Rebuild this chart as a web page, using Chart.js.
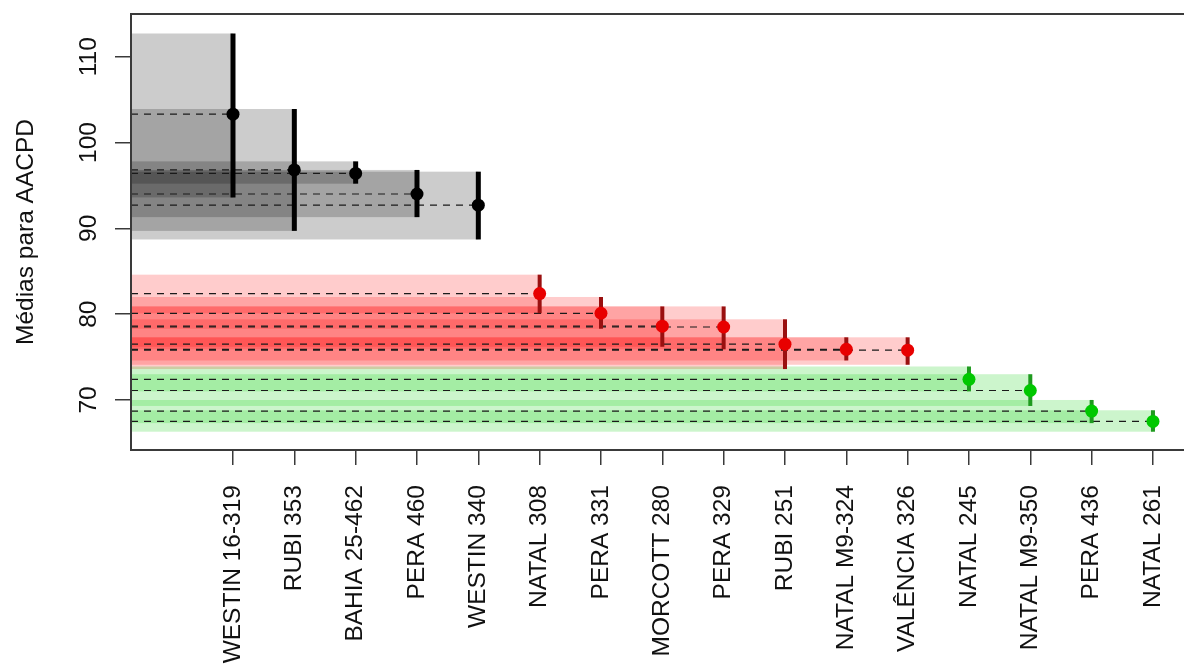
<!DOCTYPE html>
<html>
<head>
<meta charset="utf-8">
<script src="https://cdn.jsdelivr.net/npm/chart.js@4.4.1/dist/chart.umd.min.js"></script>
<style>
	html, body { margin: 0; padding: 0; background: #fff; overflow: hidden; }
	#grafico { display: block; }
</style>
</head>
<body>
<canvas id="grafico" width="1184" height="670"></canvas>
<script>
// dados
var categorias = ['WESTIN 16-319', 'RUBI 353', 'BAHIA 25-462', 'PERA 460', 'WESTIN 340',
	'NATAL 308', 'PERA 331', 'MORCOTT 280', 'PERA 329', 'RUBI 251', 'NATAL M9-324', 'VALÊNCIA 326',
	'NATAL 245', 'NATAL M9-350', 'PERA 436', 'NATAL 261'];
var medias = [103.3, 96.8, 96.4, 94.0, 92.7, 82.4, 80.1, 78.6, 78.5, 76.5, 75.9, 75.8, 72.4, 71.1, 68.7, 67.5];
var limInf = [93.6, 89.7, 95.2, 91.3, 88.7, 80.1, 78.3, 76.2, 75.9, 73.6, 74.6, 74.1, 71.0, 69.3, 67.3, 66.3];
var limSup = [112.7, 103.9, 97.8, 96.8, 96.6, 84.6, 82.0, 80.9, 80.9, 79.4, 77.3, 77.3, 73.9, 73.0, 70.0, 68.8];
var grupos = ['a', 'a', 'a', 'a', 'a', 'b', 'b', 'b', 'b', 'b', 'b', 'b', 'c', 'c', 'c', 'c'];
var marcasY = [70, 80, 90, 100, 110];

// limites dos eixos
var xMin = -0.663, xMax = 16.506;
var yMin = 64.17, yMax = 114.97;

var corFaixa = { a: 'rgba(0,0,0,0.2)', b: 'rgba(255,0,0,0.2)', c: 'rgba(0,205,0,0.2)' };
var corBarra = { a: '#000000', b: '#9a1010', c: '#1f9a1f' };
var corPonto = { a: '#000000', b: '#e80000', c: '#00c800' };
var fonte = '"Liberation Sans", Arial, sans-serif';
var tamFonte = 24.5;

var datasets = [];
categorias.forEach(function(c, i) {
	// linha tracejada até a média
	datasets.push({
		type: 'line',
		data: [{ x: xMin, y: medias[i] }, { x: i + 1, y: medias[i] }],
		borderColor: '#1a1a1a',
		borderWidth: 1.2,
		borderDash: [7, 6],
		pointRadius: 0,
		order: 3
	});
	// barra do intervalo
	datasets.push({
		type: 'line',
		data: [{ x: i + 1, y: limInf[i] }, { x: i + 1, y: limSup[i] }],
		borderColor: corBarra[grupos[i]],
		borderWidth: grupos[i] == 'a' ? 5 : 4,
		borderCapStyle: 'butt',
		pointRadius: 0,
		order: 2
	});
});
datasets.push({
	type: 'scatter',
	data: medias.map(function(m, i) { return { x: i + 1, y: m }; }),
	pointRadius: 6.5,
	pointBackgroundColor: grupos.map(function(g) { return corPonto[g]; }),
	pointBorderWidth: 0,
	order: 1
});

var molduraPlugin = {
	id: 'moldura',
	beforeDatasetsDraw: function(chart) {
		var ctx = chart.ctx, xs = chart.scales.x, ys = chart.scales.y;
		ctx.save();
		categorias.forEach(function(c, i) {
			var x0 = xs.getPixelForValue(xMin), x1 = xs.getPixelForValue(i + 1);
			var y0 = ys.getPixelForValue(limSup[i]), y1 = ys.getPixelForValue(limInf[i]);
			ctx.fillStyle = corFaixa[grupos[i]];
			ctx.fillRect(x0, y0, x1 - x0, y1 - y0);
		});
		ctx.restore();
	},
	afterDraw: function(chart) {
		var ctx = chart.ctx, area = chart.chartArea, ys = chart.scales.y;
		ctx.save();
		// caixa (sem o lado direito, fora da imagem)
		ctx.strokeStyle = '#3a3a3a';
		ctx.lineWidth = 2;
		ctx.beginPath();
		ctx.moveTo(area.right + 2, area.top);
		ctx.lineTo(area.left, area.top);
		ctx.lineTo(area.left, area.bottom);
		ctx.lineTo(area.right + 2, area.bottom);
		ctx.stroke();
		// rótulos do eixo y, girados como no R
		ctx.fillStyle = '#111';
		ctx.font = tamFonte + 'px ' + fonte;
		ctx.textAlign = 'center';
		ctx.textBaseline = 'alphabetic';
		marcasY.forEach(function(v) {
			ctx.save();
			ctx.translate(96, ys.getPixelForValue(v));
			ctx.rotate(-Math.PI / 2);
			ctx.fillText(String(v), 0, 0);
			ctx.restore();
		});
		ctx.translate(33, (area.top + area.bottom) / 2);
		ctx.rotate(-Math.PI / 2);
		ctx.fillText('Médias para AACPD', 0, 0);
		ctx.restore();
	}
};

var grafico = new Chart(document.getElementById('grafico'), {
	data: { datasets: datasets },
	options: {
		responsive: false,
		animation: false,
		layout: { autoPadding: false, padding: { top: 14, left: 0, right: 0, bottom: 0 } },
		plugins: {
			legend: { display: false },
			tooltip: { enabled: false }
		},
		scales: {
			x: {
				type: 'linear',
				min: xMin,
				max: xMax,
				afterBuildTicks: function(scale) {
					scale.ticks = categorias.map(function(c, i) { return { value: i + 1 }; });
				},
				afterFit: function(scale) {
					scale.height = 220;
					scale.paddingLeft = 0;
					scale.paddingRight = 0;
				},
				border: { display: false },
				grid: { drawOnChartArea: false, drawTicks: true, tickLength: 15, color: '#3a3a3a', lineWidth: 1.5 },
				ticks: {
					autoSkip: false,
					minRotation: 90,
					maxRotation: 90,
					padding: 20,
					color: '#111',
					font: { family: fonte, size: tamFonte },
					callback: function(v) { return categorias[v - 1]; }
				}
			},
			y: {
				type: 'linear',
				min: yMin,
				max: yMax,
				afterBuildTicks: function(scale) {
					scale.ticks = marcasY.map(function(v) { return { value: v }; });
				},
				afterFit: function(scale) {
					scale.width = 131;
					scale.paddingTop = 0;
					scale.paddingBottom = 0;
				},
				border: { display: false },
				grid: { drawOnChartArea: false, drawTicks: true, tickLength: 16, color: '#3a3a3a', lineWidth: 1.5 },
				ticks: { display: false }
			}
		}
	},
	plugins: [molduraPlugin]
});
</script>
</body>
</html>
